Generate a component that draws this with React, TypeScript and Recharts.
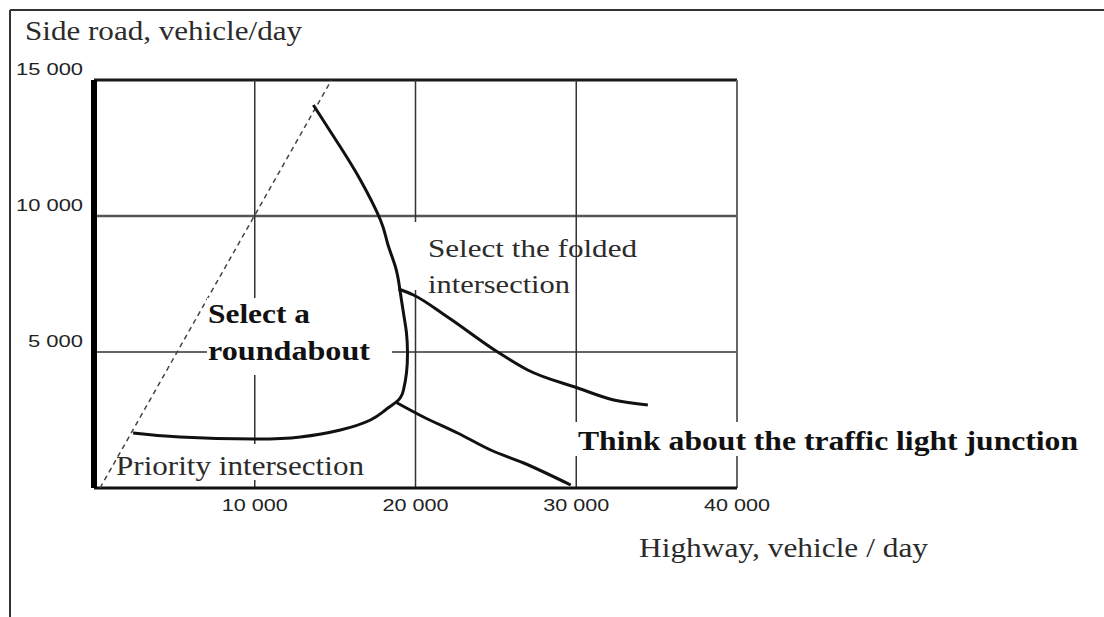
import React from "react";
import { LineChart, Line, XAxis, YAxis, ReferenceLine } from "recharts";

// ---- data (vehicles/day) ----
const xTicks = [10000, 20000, 30000, 40000];
const yTicks = [5000, 10000, 15000];
const xTickLabels = ["10 000", "20 000", "30 000", "40 000"];
const yTickLabels = ["5 000", "10 000", "15 000"];

// lower "priority" curve joined to the roundabout boundary
const roundaboutBoundary = [
  { x: 2430, y: 2022 },
  { x: 5358, y: 1875 },
  { x: 9969, y: 1801 },
  { x: 12835, y: 1875 },
  { x: 15327, y: 2132 },
  { x: 17196, y: 2500 },
  { x: 18131, y: 2868 },
  { x: 18941, y: 3235 },
  { x: 19252, y: 3603 },
  { x: 19439, y: 4228 },
  { x: 19502, y: 4963 },
  { x: 19439, y: 5699 },
  { x: 19252, y: 6434 },
  { x: 19003, y: 7390 },
  { x: 18754, y: 8125 },
  { x: 18255, y: 9007 },
  { x: 17819, y: 9853 },
  { x: 16573, y: 11324 },
  { x: 15327, y: 12537 },
  { x: 13645, y: 14081 },
];

const foldedBranch = [
  { x: 18941, y: 7316 },
  { x: 19875, y: 7096 },
  { x: 21994, y: 6287 },
  { x: 25109, y: 5000 },
  { x: 26978, y: 4338 },
  { x: 30093, y: 3676 },
  { x: 32336, y: 3235 },
  { x: 34455, y: 3051 },
];

const signalBranch = [
  { x: 18754, y: 3162 },
  { x: 20498, y: 2610 },
  { x: 22617, y: 2022 },
  { x: 24673, y: 1397 },
  { x: 26729, y: 919 },
  { x: 29657, y: 110 },
];

const diagonal = [
  { x: 374, y: 0 },
  { x: 14770, y: 15000 },
];

const SANS = "'Liberation Sans', Arial, sans-serif";
const SERIF = "'Liberation Serif', 'Times New Roman', serif";

const XTick = (props: any) => {
  const { x, y, payload } = props;
  const i = xTicks.indexOf(payload.value);
  return (
    <text
      x={x}
      y={y + 23}
      textAnchor="middle"
      fontFamily={SANS}
      fontSize={17}
      fill="#222"
      textLength={66}
      lengthAdjust="spacingAndGlyphs"
    >
      {xTickLabels[i]}
    </text>
  );
};

const YTick = (props: any) => {
  const { x, y, payload } = props;
  const i = yTicks.indexOf(payload.value);
  const label = yTickLabels[i];
  return (
    <text
      x={x - 11}
      y={y - 5}
      textAnchor="end"
      fontFamily={SANS}
      fontSize={17}
      fill="#222"
      textLength={label.length === 5 ? 55 : 67}
      lengthAdjust="spacingAndGlyphs"
    >
      {label}
    </text>
  );
};

export default function App() {
  return (
    <div
      style={{
        position: "absolute",
        left: 0,
        top: 0,
        width: 1104,
        height: 617,
        background: "#fff",
        overflow: "hidden",
      }}
    >
      <LineChart
        width={1104}
        height={617}
        margin={{ top: 80, right: 367, bottom: 99, left: 0 }}
      >
        <XAxis
          type="number"
          dataKey="x"
          domain={[0, 40000]}
          ticks={xTicks}
          axisLine={false}
          tickLine={false}
          tickSize={0}
          tickMargin={0}
          height={30}
          tick={<XTick />}
          interval={0}
        />
        <YAxis
          type="number"
          domain={[0, 15000]}
          ticks={yTicks}
          axisLine={false}
          tickLine={false}
          tickSize={0}
          tickMargin={0}
          width={94}
          tick={<YTick />}
          interval={0}
        />
        <ReferenceLine y={5000} stroke="#333" strokeWidth={1.5} />
        <ReferenceLine y={10000} stroke="#555" strokeWidth={2.5} />
        <ReferenceLine y={15000} stroke="#1a1a1a" strokeWidth={3} />
        <ReferenceLine x={10000} stroke="#333" strokeWidth={1.5} />
        <ReferenceLine x={20000} stroke="#333" strokeWidth={1.5} />
        <ReferenceLine x={30000} stroke="#333" strokeWidth={1.5} />
        <ReferenceLine x={40000} stroke="#666" strokeWidth={2} />
        <ReferenceLine y={0} stroke="#111" strokeWidth={3} />
        <ReferenceLine x={0} stroke="#000" strokeWidth={6} />
        <Line
          data={diagonal}
          dataKey="y"
          type="linear"
          stroke="#444"
          strokeWidth={1.5}
          strokeDasharray="5 4"
          dot={false}
          isAnimationActive={false}
        />
        <Line
          data={roundaboutBoundary}
          dataKey="y"
          type="natural"
          stroke="#111"
          strokeWidth={3}
          dot={false}
          isAnimationActive={false}
        />
        <Line
          data={foldedBranch}
          dataKey="y"
          type="monotone"
          stroke="#111"
          strokeWidth={3}
          dot={false}
          isAnimationActive={false}
        />
        <Line
          data={signalBranch}
          dataKey="y"
          type="monotone"
          stroke="#111"
          strokeWidth={3}
          dot={false}
          isAnimationActive={false}
        />
      </LineChart>
      <svg
        width={1104}
        height={617}
        style={{ position: "absolute", left: 0, top: 0, pointerEvents: "none" }}
      >
        <line x1={10} y1={10} x2={1104} y2={10} stroke="#333" strokeWidth={2} />
        <line x1={10} y1={10} x2={10} y2={617} stroke="#333" strokeWidth={2} />
        <rect x={408} y={222} width={164} height={68} fill="#fff" />
        <rect x={207} y={298} width={185} height={77} fill="#fff" />
        <rect x={572} y={422} width={513} height={34} fill="#fff" />
        <rect x={130} y={444} width={238} height={36} fill="#fff" />
        <text x={25} y={40} fontFamily={SERIF} fontSize={27} fill="#2b2b2b" textLength={277} lengthAdjust="spacingAndGlyphs">
          Side road, vehicle/day
        </text>
        <text x={639} y={557} fontFamily={SERIF} fontSize={27} fill="#2b2b2b" textLength={289} lengthAdjust="spacingAndGlyphs">
          Highway, vehicle / day
        </text>
        <text x={428} y={257} fontFamily={SERIF} fontSize={26} fill="#2b2b2b" textLength={209} lengthAdjust="spacingAndGlyphs">
          Select the folded
        </text>
        <text x={428} y={293} fontFamily={SERIF} fontSize={26} fill="#2b2b2b" textLength={142} lengthAdjust="spacingAndGlyphs">
          intersection
        </text>
        <text x={208} y={323} fontFamily={SERIF} fontWeight="bold" fontSize={27} fill="#111" textLength={102} lengthAdjust="spacingAndGlyphs">
          Select a
        </text>
        <text x={208} y={360} fontFamily={SERIF} fontWeight="bold" fontSize={27} fill="#111" textLength={162} lengthAdjust="spacingAndGlyphs">
          roundabout
        </text>
        <text x={578} y={450} fontFamily={SERIF} fontWeight="bold" fontSize={28} fill="#111" textLength={500} lengthAdjust="spacingAndGlyphs">
          Think about the traffic light junction
        </text>
        <text x={116} y={475} fontFamily={SERIF} fontSize={27} fill="#2b2b2b" textLength={248} lengthAdjust="spacingAndGlyphs">
          Priority intersection
        </text>
      </svg>
    </div>
  );
}
